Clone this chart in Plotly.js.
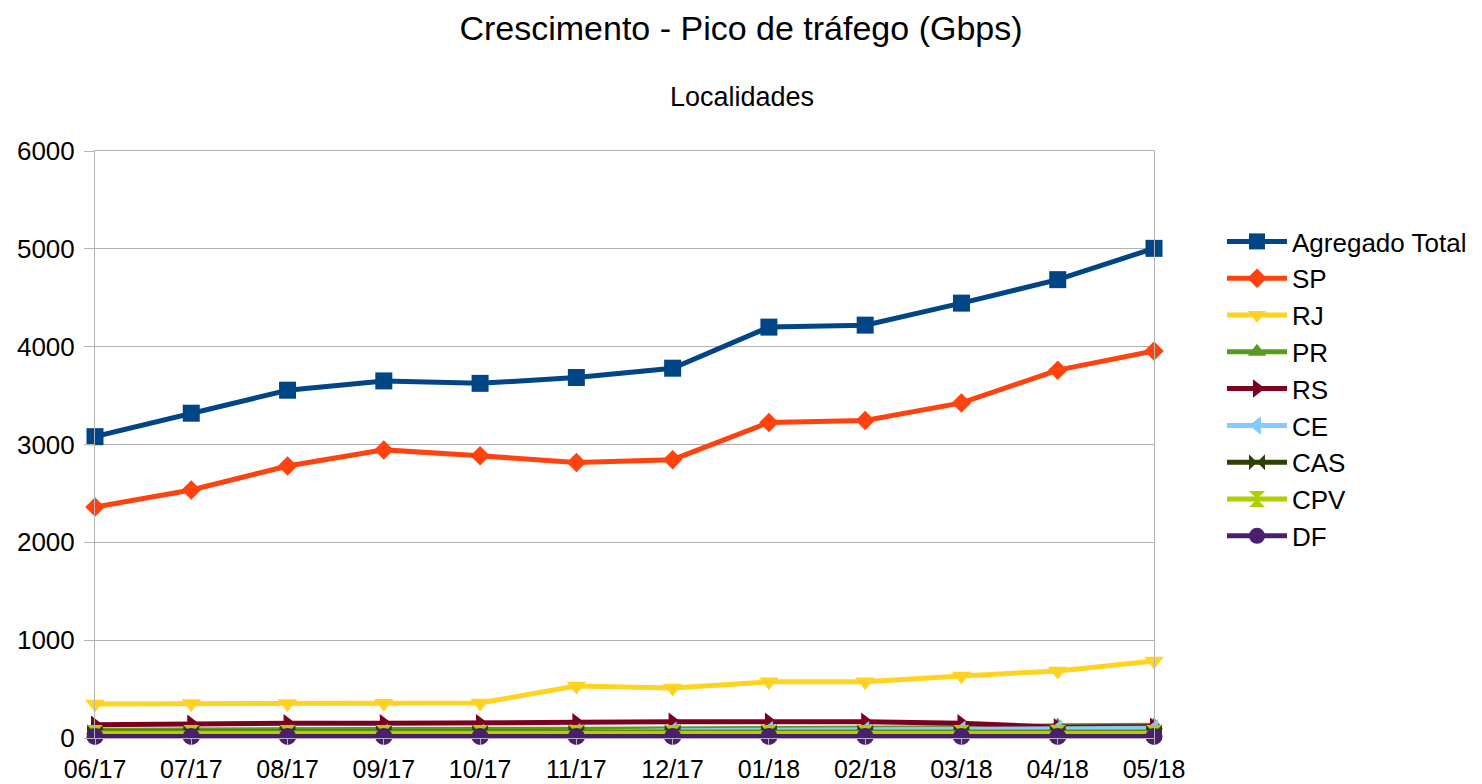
<!DOCTYPE html>
<html>
<head>
<meta charset="utf-8">
<script src="https://cdn.plot.ly/plotly-3.0.1.min.js"></script>
<style>html,body{margin:0;padding:0;background:#fff;}#chart{width:1482px;height:784px;}</style>
</head>
<body>
<div id="chart"></div>
<script>
const months = ["06/17","07/17","08/17","09/17","10/17","11/17","12/17","01/18","02/18","03/18","04/18","05/18"];
const agregadoTotal = [3080, 3320, 3555, 3650, 3625, 3685, 3780, 4200, 4220, 4445, 4685, 5005];
const sp  = [2360, 2535, 2780, 2945, 2885, 2815, 2845, 3225, 3245, 3425, 3760, 3955];
const rj  = [348, 352, 352, 356, 358, 532, 512, 574, 574, 634, 686, 787];
const pr  = [80, 85, 85, 88, 90, 90, 95, 100, 100, 105, 125, 130];
const rs  = [135, 145, 150, 150, 150, 160, 165, 165, 165, 150, 110, 115];
const ce  = [40, 45, 45, 50, 50, 60, 75, 80, 80, 85, 95, 100];
const cas = [60, 60, 60, 60, 60, 60, 60, 60, 60, 60, 60, 60];
const cpv = [50, 50, 50, 50, 50, 50, 50, 50, 50, 50, 50, 50];
const df  = [15, 15, 15, 15, 15, 15, 15, 15, 15, 15, 15, 15];

const seriesNames = ["Agregado Total","SP","RJ","PR","RS","CE","CAS","CPV","DF"];
const seriesData = [agregadoTotal, sp, rj, pr, rs, ce, cas, cpv, df];
const colors = ["#004586","#ff420e","#ffd320","#579d1c","#7e0021","#83caff","#314004","#aecf00","#4b1f6f"];
const symbols = ["square","diamond","triangle-down","triangle-up","triangle-right","triangle-left","bowtie","hourglass","circle"];
const sizes = [17, 15, 17, 16, 16, 16, 16, 16, 17];

const traces = seriesNames.map((n, i) => ({
  type: 'scatter', mode: 'lines+markers', name: n,
  x: months, y: seriesData[i],
  line: {color: colors[i], width: 5},
  marker: {symbol: symbols[i], color: colors[i], size: sizes[i], line: {width: 0}},
  cliponaxis: false
}));

const font = "'Liberation Sans', Arial, sans-serif";
const layout = {
  width: 1482, height: 784,
  paper_bgcolor: '#fff', plot_bgcolor: '#fff',
  margin: {l: 95, r: 328, t: 151, b: 46},
  font: {family: font, color: '#000', size: 24},
  title: {text: 'Crescimento - Pico de tráfego (Gbps)', font: {family: font, size: 34, color: '#000'},
          x: 0.5, xref: 'container', y: 1 - 28/784, yref: 'container', xanchor: 'center', yanchor: 'middle'},
  annotations: [{text: 'Localidades', xref: 'paper', yref: 'paper', x: (742-95)/1059, y: (738-97)/587,
                 xanchor: 'center', yanchor: 'middle', showarrow: false, font: {family: font, size: 27, color: '#000'}}],
  xaxis: {type: 'category', range: [0, 11], showgrid: false, showline: true, linecolor: '#b3b3b3', linewidth: 1,
          mirror: true, ticks: 'outside', ticklen: 6, tickcolor: '#b3b3b3', tickfont: {size: 25, family: font},
          ticklabelstandoff: 3, zeroline: false, fixedrange: true},
  yaxis: {range: [0, 6000], dtick: 1000, showgrid: true, gridcolor: '#b3b3b3', gridwidth: 1, showline: true,
          linecolor: '#b3b3b3', mirror: true, ticks: 'outside', ticklen: 10, tickcolor: '#b3b3b3',
          tickfont: {size: 26, family: font}, ticklabelstandoff: 4, zeroline: false, fixedrange: true},
  legend: {xref: 'container', yref: 'container', x: 1222/1482, y: 1 - 218/784, xanchor: 'left', yanchor: 'top',
           font: {size: 26, family: font, color: '#000'}, itemwidth: 60, bgcolor: 'rgba(0,0,0,0)'},
  showlegend: true
};
Plotly.newPlot('chart', traces, layout, {staticPlot: true});
</script>
</body>
</html>
